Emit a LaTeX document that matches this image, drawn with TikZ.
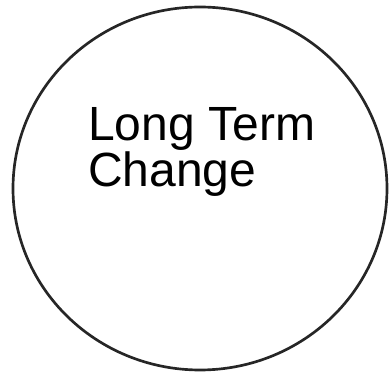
\documentclass[tikz,border=0pt]{standalone}
\usepackage{fontspec}
\setmainfont{Liberation Sans}
\usetikzlibrary{shapes}

\begin{document}
\begin{tikzpicture}[x=0.75pt,y=-0.75pt]
                    % Frame
                    \useasboundingbox (0,0) rectangle (390,373);
                    % Define nodes
                    \draw[line width=2pt, black!85] (200,188.5) ellipse [x radius=187, y radius=181.5];
                    \node (L) at (88,187) [anchor=base west, inner sep=0pt, align=left, font=\fontsize{36}{33}\selectfont] {Long Term\\Change};
                \end{tikzpicture}
\end{document}
